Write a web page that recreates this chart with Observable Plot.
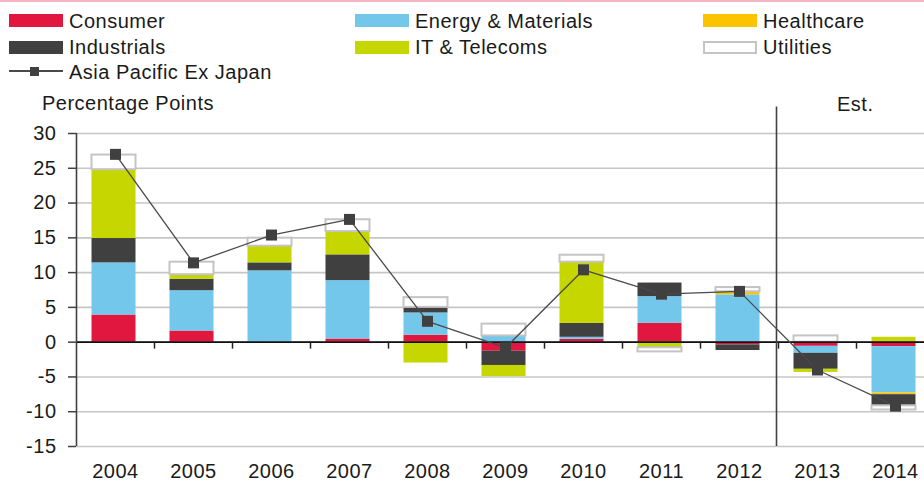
<!DOCTYPE html>
<html><head><meta charset="utf-8">
<script src="https://cdn.jsdelivr.net/npm/d3@7"></script>
<script src="https://cdn.jsdelivr.net/npm/@observablehq/plot@0.6"></script>
<style>
html,body{margin:0;padding:0;background:#fff;overflow:hidden}
#wrap{position:relative;width:924px;height:486px;font-family:"Liberation Sans",Arial,sans-serif;font-size:20px;letter-spacing:0.5px;color:#1a1a1a}
#chart svg{position:absolute;left:0;top:0}
.topline{position:absolute;left:0;top:0;width:924px;height:2px;background:#f6b4c4}
.lg{position:absolute;line-height:20px;white-space:nowrap}
.sw{position:absolute;width:54px;height:13px;box-sizing:border-box}
</style>
</head><body>
<div id="wrap"><div id="chart"></div><div class="topline"></div></div>
<script>
// ---- data ----
const years = ["2004","2005","2006","2007","2008","2009","2010","2011","2012","2013","2014"];
const sectors = ["Consumer","Energy & Materials","Healthcare","Industrials","IT & Telecoms","Utilities"];
const consumer    = [3.9, 1.6, 0, 0.45, 1.0, -1.3, 0.4, 2.7, -0.4, -0.6, -0.65];
const energy      = [7.5, 5.8, 10.25, 8.4, 3.2, 0.9, 0.3, 3.85, 6.8, -1.0, -6.65];
const healthcare  = [0, 0, 0, 0, 0, 0, 0, 0, 0.45, 0, -0.25];
const industrials = [3.5, 1.65, 1.15, 3.7, 0.8, -2.05, 2.0, 1.95, -0.8, -2.3, -1.6];
const itTelecoms  = [9.9, 0.65, 2.4, 3.35, -3.0, -1.6, 8.8, -0.8, 0, -0.45, 0.7];
const utilities   = [2.1, 1.8, 1.15, 1.7, 1.4, 1.7, 1.0, -0.6, 0.6, 0.9, -0.6];
const asiaPacExJapan = [27.0, 11.4, 15.4, 17.65, 3.0, -0.8, 10.4, 6.9, 7.3, -4.0, -9.2];
const lineName = "Asia Pacific Ex Japan";
const yTicks = [-15, -10, -5, 0, 5, 10, 15, 20, 25, 30];
const estYear = "2013";
const estLabel = "Est.";
const yTitle = "Percentage Points";

// ---- styles ----
const sectorColors = ["#e2173f","#72c7ea","#fcc400","#404041","#c5d600","#ffffff"];
const utilStroke = "#c4c4c4";
const sectorValues = [consumer, energy, healthcare, industrials, itTelecoms, utilities];

const data = sectors.flatMap((s, i) => years.map((y, j) => ({
  year: y, sector: s, value: sectorValues[i][j],
  fill: sectorColors[i], stroke: s === "Utilities" ? utilStroke : "transparent"
})));
const lineData = years.map((y, j) => ({year: y, value: asiaPacExJapan[j]}));

const xRange = [76, 934];
const step = (xRange[1] - xRange[0]) / years.length;
const estTop = 33.8;

const chart = Plot.plot({
  width: 924, height: 486,
  marginLeft: 76, marginRight: 0, marginTop: 133, marginBottom: 40,
  x: {type: "band", domain: years, range: xRange, paddingInner: 0.44, paddingOuter: 0.22},
  y: {domain: [-15, 30], range: [446, 133]},
  color: {type: "identity"},
  style: {fontFamily: '"Liberation Sans", Arial, sans-serif', fontSize: "20px", letterSpacing: "0.5px", color: "#1a1a1a", background: "transparent", overflow: "visible"},
  marks: [
    Plot.ruleY(yTicks, {stroke: "#c6c6c6", strokeWidth: 1.6}),
    Plot.barY(data, {x: "year", y: "value", z: "sector", fill: "fill", stroke: "stroke", strokeWidth: 2, dx: -1.5}),
    Plot.ruleY([0], {stroke: "#111", strokeWidth: 1.6}),
    Plot.ruleX(years.slice(1), {x: d => d, y1: 0, y2: -1, dx: -step / 2, stroke: "#222", strokeWidth: 1.5}),
    Plot.ruleX([years[0]], {x: d => d, y1: -15, y2: 30, dx: -step / 2, stroke: "#404040", strokeWidth: 1.6}),
    Plot.axisY({ticks: yTicks, tickFormat: d => String(d), tickSize: 8, tickPadding: 12, label: null, stroke: "#404040", strokeWidth: 1.5}),
    Plot.axisX({tickSize: 0, tickPadding: 17, label: null}),
    Plot.ruleX([estYear], {x: d => d, y1: -15, y2: estTop, dx: -step / 2 - 2, stroke: "#404040", strokeWidth: 1.6}),
    Plot.line(lineData, {x: "year", y: "value", stroke: "#4a4a4a", strokeWidth: 1.3}),
    Plot.dot(lineData, {x: "year", y: "value", symbol: "square", r: 6.2, fill: "#404040"})
  ]
});
document.getElementById("chart").appendChild(chart);

// ---- legend & titles (HTML) ----
const wrap = document.getElementById("wrap");
function add(cls, css, text) {
  const d = document.createElement("div");
  d.className = cls; Object.assign(d.style, css);
  if (text != null) d.textContent = text;
  wrap.appendChild(d); return d;
}
const colX = [9, 355, 703];
const rowSwTop = [14, 40.5];
const rowTextTop = [10.9, 36.5];
sectors.forEach((s, i) => {
  const col = i % 3, row = Math.floor(i / 3);
  const css = {left: colX[col] + "px", top: rowSwTop[row] + "px", background: sectorColors[i]};
  if (s === "Utilities") css.border = "2px solid " + utilStroke;
  add("sw", css);
  add("lg", {left: (colX[col] + 60) + "px", top: rowTextTop[row] + "px"}, s);
});
// line legend
add("", {position: "absolute", left: "9px", top: "70.2px", width: "54px", height: "1.6px", background: "#4a4a4a"});
add("", {position: "absolute", left: "30px", top: "66.5px", width: "9px", height: "9px", background: "#404040"});
add("lg", {left: "69px", top: "62px"}, lineName);
add("lg", {left: "42px", top: "92.7px"}, yTitle);
add("lg", {left: "837px", top: "94px"}, estLabel);
</script>
</body></html>
